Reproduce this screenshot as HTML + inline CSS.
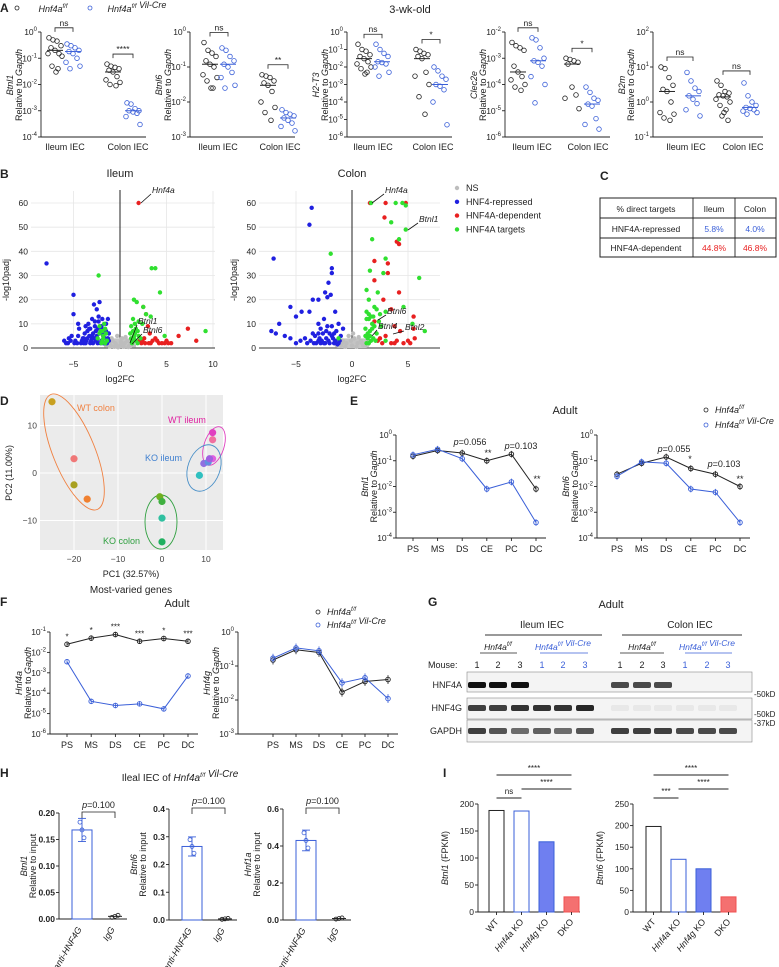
<!DOCTYPE html>
<html><head><meta charset="utf-8">
<style>
html,body{margin:0;padding:0;background:#fff;}
svg{display:block;font-family:"Liberation Sans",Arial,sans-serif;}
</style></head>
<body>
<svg id="fig" width="779" height="967" viewBox="0 0 779 967" xmlns="http://www.w3.org/2000/svg">
<rect width="779" height="967" fill="#fff"/>
</svg>
<script>
// ===== DATA =====
const aBtnl1 = [[0.6,0.5,0.45,0.3,0.25,0.2,0.15,0.15,0.12,0.05,0.04,0.03],[0.35,0.3,0.25,0.2,0.18,0.15,0.1,0.07,0.05,0.04],[0.06,0.05,0.045,0.04,0.035,0.03,0.02,0.015,0.012,0.01,0.009],[0.002,0.0018,0.0012,0.001,0.001,0.0009,0.0008,0.0006,0.0003]];
const aBtnl6 = [[0.5,0.3,0.25,0.2,0.15,0.12,0.1,0.06,0.05,0.04,0.025,0.025],[0.35,0.3,0.2,0.15,0.12,0.1,0.07,0.05,0.03,0.025],[0.06,0.055,0.05,0.04,0.035,0.03,0.02,0.01,0.007,0.005,0.003],[0.006,0.005,0.0045,0.004,0.0035,0.003,0.0025,0.002,0.0015]];
const aH2T3 = [[0.2,0.1,0.08,0.05,0.04,0.03,0.02,0.015,0.01,0.008,0.005,0.004],[0.2,0.1,0.06,0.04,0.02,0.018,0.015,0.01,0.005,0.003],[0.1,0.08,0.06,0.05,0.04,0.03,0.005,0.003,0.001,0.0002,0.00002],[0.01,0.006,0.003,0.002,0.001,0.0008,0.0005,0.0001,0.000005]];
const aClec2e = [[0.004,0.003,0.0025,0.002,0.0005,0.0003,0.0002,0.00015,0.0001,0.00008,0.00006],[0.006,0.005,0.0025,0.001,0.0008,0.0007,0.0005,0.0002,0.0001,0.00002],[0.001,0.0009,0.0008,0.0007,0.0006,0.00008,0.00004,0.00003,0.000012],[0.00008,0.00005,0.00003,0.000025,0.000018,0.000015,0.000005,0.000003,0.000002]];
const aB2m = [[10,9,5,3,2.3,2,1,0.5,0.45,0.35,0.3],[7,4,2.5,2,1.5,1.2,0.9,0.6,0.4],[4,3,2,1.8,1.6,1.5,1.4,1.2,1,0.8,0.6,0.5,0.4,0.3],[3.5,1.5,1,0.8,0.7,0.65,0.6,0.55,0.5,0.45]];
// Panel B volcano [log2FC, -log10padj]
const ilRepX=[-7.9,-5,-5,-4.5,-5.5,-6,-5.8,-4.8,-4,-3.5,-3.2,-3,-2.8,-2.5,-2.2,-2,-2.5,-3,-2,-1.5,-1.3,-1.8,-2.7,-3.8,-4.2,-1.2,-3.4,-2.3,-1.6,-5.2,-2.9,-3.6,-4.4,-3.9,-2.6,-1.9,-1.4,-3.3,-5.6,-5.3,-4.9,-4.6,-4.1,-3.7,-3.1,-2.4,-2.1,-1.7,-1.5,-3.5,-3.0,-2.6,-2.2,-1.8,-1.3,-4.5,-3.9,-3.3,-2.8,-2.4,-2.0,-1.6,-1.2,-3.7,-3.2,-2.7,-2.3,-1.9,-1.5,-4.0,-2.9,-2.5];
const ilRepY=[35,22,14,10,4,3,2,3,4,7,2,12,18,16,19,8,5,4,3,10,12,2,9,6,2,6,10,11,4,5,6,3,8,2,3,6,2,8,2,3,2,2,3,2,3,2,2,2,2,4,5,7,6,5,4,5,4,5,4,8,9,7,3,9,8,11,13,12,7,3,2,3];
const ilTgtX=[-2.3,-2.1,-1.8,-1.6,-1.4,-1.9,-2.4,1.5,1.8,2,2.5,3.4,3.8,4.3,1.4,1.6,2.2,1.3,1.7,2.8,3.3,4.8,9.2,1.9,1.2,2.4,-1.7,-2.2,1.5,1.1,-2.0,-1.8,-1.5,-2.2,-1.9,-1.6,1.3,1.5,1.7,1.9,1.2,1.4,1.6,2.0];
const ilTgtY=[30,7,5,8,3,3,4,20,19,11,17,33,33,23,12,6,4,3,8,14,13,5,7,2,9,10,10,6,4,6,2,4,6,9,7,2,2,5,3,7,4,7,10,5];
const ilDepX=[2,2.5,2.8,3,3.2,3.5,2.6,4,4.5,5,5.5,6.3,7.3,8.2,3.8,2.3,4.8,3.1,2.1,2.7,3.3,4.2,5.2,2.4];
const ilDepY=[60,17,14,9,6,3,4,3,2,3,2,5,8,3,4,2,2,2,3,2,2,2,2,3];
const ilNsX=[-1,-0.5,0,0.5,1,-0.8,0.8,-1.5,1.5,0.2,-0.3,0.4,-0.6,1.2,-1.2,0.6,-0.9,-0.2,0.1,-1.1,0.9,-0.4,0.3,1.3];
const ilNsY=[1,2,1,2,1,3,3,1,1,4,5,0.5,0.5,2,2,4.5,4,0.3,2.5,0.6,0.4,1.2,1.5,3.5];
const coRepX=[-7,-3.6,-3.8,-1.8,-1.8,-2.1,-2.4,-3,-2.2,-1.9,-3.5,-5.5,-4.5,-5,-3.8,-6.5,-7.2,-6.8,-5.5,-4.2,-3,-2.5,-1.5,-1.2,-2,-1.5,-3,-4,-2.5,-1,-0.8,-1.8,-2.8,-3.5,-5,-1.3,-2.3,-3.3,-4.6,-6,-1.6,-2.7,-3.2,-2.9,-2.4,-2.0,-1.6,-1.2,-3.7,-3.0,-2.2,-1.8,-1.4,-2.6,-2.1,-1.7,-1.1,-3.4,-2.8,-2.3];
const coRepY=[37,58,51,33,31,27,23,20,21,22,20,17,15,13,15,10,7,6,4,4,10,12,15,10,6,3,3,2,2,5,8,9,8,6,2,1.5,4,5,3,5,6,3,2,4,2,2,2,2,3,6,9,5,7,6,3,4,3,2,2,7];
const coTgtX=[1.7,3.9,4.5,4.8,3.5,4.8,4.2,1.8,-1.9,3,1.6,2.8,6,1.3,2.3,4.6,1.5,2,3,2.5,1.5,1.8,1.2,2.2,1.4,3,6.5,5.4,1.7,2.6,-1.2,1.3,1.6,2.1,1.3,1.5,1.7,1.9,1.2,1.4,1.6,1.8,2.0,2.4,1.3,1.5,1.9,2.2];
const coTgtY=[60,60,60,59,52,49,45,45,39,37,32,31,29,24,23,17,20,17,15,14,12,10,8,6,4,3,7,10,13,9,4,15,5,3,2,2,3,4,5,6,7,8,9,11,12,14,13,16];
const coDepX=[1.6,3,4.8,2.9,4,4.2,2,3.2,3.2,2,4.2,2.8,3.5,5.5,2,3.8,4.3,5.5,3,4,5,5.6,2.5,3.5,1.5,2.3,2.7,3.8,4.6,5.2];
const coDepY=[60,60,60,54,44,43,36,35,31,28,23,20,16,13,11,9,7,8,5,3,3,4,4,2,5,3,2,2,2,2];
const coNsX=[-1,-0.5,0,0.5,1,-0.8,0.8,-1.2,1.2,0.2,-0.3,0.4,-0.6,0.9,-0.9,0.6,0.1,-0.1];
const coNsY=[1,2,1,2,1,3,3,1,1,4,5,0.5,0.5,2,2,4.5,6,3];
// Panel D PCA
const pcaX=[-25,-20,-20,-17,11.5,11.5,11.5,9.5,10.5,10.8,8.5,-0.5,0,0,0];
const pcaY=[15,3,-2.5,-5.5,8.5,7,3,2,2.3,3,-0.5,-5,-6,-9.5,-14.5];
const pcaCol=['#c8a020','#f07878','#a8a020','#f08030','#e040c0','#f070a0','#e060e0','#9070e0','#6090e0','#a060e0','#30c0c0','#70b020','#40b040','#30c0a0','#20b060'];
// Panel E/F
const segs=['PS','MS','DS','CE','PC','DC'];
const eBtnl1Ff=[0.15,0.25,0.2,0.1,0.18,0.008];
const eBtnl1Cre=[0.17,0.28,0.12,0.008,0.015,0.0004];
const eBtnl6Ff=[0.03,0.08,0.14,0.05,0.03,0.01];
const eBtnl6Cre=[0.025,0.09,0.08,0.008,0.006,0.0004];
const fHnf4aFf=[0.025,0.05,0.075,0.035,0.048,0.035];
const fHnf4aCre=[0.0035,0.00004,0.000025,0.00003,0.000017,0.0007];
const fHnf4gFf=[0.15,0.3,0.25,0.017,0.035,0.04];
const fHnf4gCre=[0.17,0.34,0.28,0.032,0.045,0.011];
const fStars=['*','*','***','***','*','***'];
// Panel H
const hTargets=['Btnl1','Btnl6','Hnf1a'];
const hAnti=[0.168,0.265,0.43];
const hIgG=[0.005,0.004,0.008];
const hMax=[0.2,0.4,0.6];
// Panel I
const iCats=['WT','Hnf4a KO','Hnf4g KO','DKO'];
const iBtnl1=[188,187,130,28];
const iBtnl6=[198,122,100,35];

// ===== HELPERS =====
const NS='http://www.w3.org/2000/svg';
const svg=document.getElementById('fig');
function el(tag,a,nm,parent){
  const e=document.createElementNS(NS,tag);
  for(const k in a) e.setAttribute(k,a[k]);
  
  
  (parent||svg).appendChild(e);
  return e;
}
function T(x,y,s,nm,o){
  o=o||{};
  const e=el('text',{x:x,y:y,'font-size':o.fs||9,'text-anchor':o.a||'middle',fill:o.c||'#222','font-style':o.it?'italic':'normal','font-weight':o.b?'bold':'normal'},nm);
  if(o.rot!==undefined) e.setAttribute('transform','rotate('+o.rot+' '+x+' '+y+')');
  e.innerHTML=s;
  return e;
}
function L(x1,y1,x2,y2,nm,c,w){return el('line',{x1:x1,y1:y1,x2:x2,y2:y2,stroke:c||'#222','stroke-width':w||0.9},nm);}
const sup=s=>'<tspan dy="-4" font-size="6">'+s+'</tspan>';
function pow(e){return '10'+sup(e);}
function logAx(x0,yT,yB,eT,eB,nm){
  const sc=v=>yT+(eT-Math.log10(v))/(eT-eB)*(yB-yT);
  L(x0,yT,x0,yB,nm+'-line');
  for(let e=eT;e>=eB;e--){const y=sc(Math.pow(10,e));L(x0-3,y,x0,y,nm+'-tick');T(x0-4,y+3,pow(e),nm+'-label',{a:'end',fs:8.5});}
  return sc;
}
const ff='Hnf4a'+sup('f/f'), cre='Hnf4a'+sup('f/f')+' Vil-Cre';
const BLUE='#3a5fd8';

// ===== PANEL A =====
T(0,12,'A','panel-a-label',{a:'start',fs:12,b:1});
el('circle',{cx:17,cy:8,r:2,fill:'none',stroke:'#222','stroke-width':0.8},'legend-ff-marker');
T(53,12,ff,'legend-ff',{it:1,fs:9});
el('circle',{cx:90,cy:8,r:2,fill:'none',stroke:BLUE,'stroke-width':0.8},'legend-cre-marker');
T(137,12,cre,'legend-cre',{it:1,fs:9});
T(410,13,'3-wk-old','panel-a-title',{fs:11});
const aPlots=[
 {d:aBtnl1,g:'Btnl1',x0:41,eT:0,eB:-4,gx:[55,73,113,133],lx:[65,128],sig:['ns','****']},
 {d:aBtnl6,g:'Btnl6',x0:190,eT:0,eB:-3,gx:[210,228,268,288],lx:[218,280],sig:['ns','**']},
 {d:aH2T3,g:'H2-T3',x0:347,eT:0,eB:-6,gx:[364,382,422,440],lx:[373,433],sig:['ns','*']},
 {d:aClec2e,g:'Clec2e',x0:505,eT:-2,eB:-6,gx:[518,538,572,592],lx:[532,588],sig:['ns','*']},
 {d:aB2m,g:'B2m',x0:653,eT:2,eB:-1,gx:[667,693,723,750],lx:[686,743],sig:['ns','ns']}
];
const jit=[-6,-2,2,6,-4,0,4,-7,7,-3,3,1,-1,5];
aPlots.forEach((p,pi)=>{
  const sc=logAx(p.x0,32,137,p.eT,p.eB,'a-yaxis-'+p.g);
  L(p.x0,137,p.x0+(pi==4?110:105),137,'a-xaxis-'+p.g);
  T(p.x0-28,85,p.g,'a-ytitle-gene-'+p.g,{it:1,rot:-90,fs:9});
  T(p.x0-19,85,'Relative to <tspan font-style="italic">Gapdh</tspan>','a-ytitle-'+p.g,{rot:-90,fs:9});
  T(p.lx[0],150,'Ileum IEC','a-xlabel-ileum',{fs:9});
  T(p.lx[1],150,'Colon IEC','a-xlabel-colon',{fs:9});
  p.d.forEach((grp,gi)=>{
    const c=gi%2?BLUE:'#222';
    grp.forEach((v,i)=>el('circle',{cx:p.gx[gi]+jit[i%jit.length],cy:sc(v),r:2.3,fill:'none',stroke:c,'stroke-width':0.8},'a-dot-'+p.g));
    const s=[...grp].sort((a,b)=>a-b), m=s[Math.floor(s.length/2)];
    L(p.gx[gi]-8,sc(m),p.gx[gi]+8,sc(m),'a-median-'+p.g,c,1);
  });
  [[0,1],[2,3]].forEach((pr,k)=>{
    const allMax=Math.max(...p.d[pr[0]],...p.d[pr[1]]);
    const y=Math.max(26,sc(allMax)-10);
    const x1=p.gx[pr[0]],x2=p.gx[pr[1]];
    el('path',{d:`M${x1},${y+4}V${y}H${x2}V${y+4}`,fill:'none',stroke:'#222','stroke-width':0.8},'a-sig-bracket');
    T((x1+x2)/2,y-2,p.sig[k],'a-sig-label',{fs:8.5});
  });
});

// ===== PANEL B =====
T(0,178,'B','panel-b-label',{a:'start',fs:12,b:1});
function volcano(x0p,x1p,zx,ux,xt,nm,title,rX,rY,tX,tY,dX,dY,nX,nY){
  const y0=348, yu=145/60;
  const sx=v=>zx+v*ux, sy=v=>y0-v*yu;
  T(zx,177,title,nm+'-title',{fs:11});
  [0,10,20,30,40,50,60].forEach(t=>{L(x0p,sy(t),x1p,sy(t),nm+'-grid-h','#e6e6e6',0.8);T(x0p-3,sy(t)+3,t,nm+'-ytick-label',{a:'end',fs:8.5});});
  xt.forEach(t=>{L(sx(t),191,sx(t),y0,nm+'-grid-v','#e6e6e6',0.8);T(sx(t),367,t==0?'0':(t<0?'\u2212'+(-t):t),nm+'-xtick-label',{fs:8.5});});
  L(x0p,y0,x1p,y0,nm+'-xaxis','#333',1);
  L(zx,190,zx,y0,nm+'-zero-line','#222',1);
  T(zx,382,'log2FC',nm+'-xtitle',{fs:9});
  T(x0p-22,280,'-log10padj',nm+'-ytitle',{rot:-90,fs:9});
  el('rect',{x:sx(-1.6),y:sy(4),width:sx(1.6)-sx(-1.6),height:sy(0)-sy(4),rx:4,fill:'#c4c4c4'},nm+'-ns-cluster');
  nX.forEach((v,i)=>el('circle',{cx:sx(v),cy:sy(nY[i]),r:2.2,fill:'#bdbdbd'},nm+'-ns-point'));
  rX.forEach((v,i)=>el('circle',{cx:sx(v),cy:sy(rY[i]),r:2.2,fill:'#2020e0'},nm+'-repressed-point'));
  dX.forEach((v,i)=>el('circle',{cx:sx(v),cy:sy(dY[i]),r:2.2,fill:'#e82020'},nm+'-dependent-point'));
  tX.forEach((v,i)=>el('circle',{cx:sx(v),cy:sy(tY[i]),r:2.2,fill:'#30e030'},nm+'-target-point'));
  return {sx,sy};
}
volcano(31,215,120,9.3,[-5,0,5,10],'volcano-ileum','Ileum',ilRepX,ilRepY,ilTgtX,ilTgtY,ilDepX,ilDepY,ilNsX,ilNsY);
volcano(259,440,352,11.2,[-5,0,5],'volcano-colon','Colon',coRepX,coRepY,coTgtX,coTgtY,coDepX,coDepY,coNsX,coNsY);
function ann(x1,y1,x2,y2,s,nm){L(x1,y1,x2,y2,nm+'-arrow','#111',0.8);T(x1+1,y1-1,s,nm,{a:'start',it:1,fs:8.5});}
ann(151,194,141,203,'Hnf4a','ileum-hnf4a-annotation');
ann(137,325,130,343,'Btnl1','ileum-btnl1-annotation');
ann(142,334,132,344,'Btnl6','ileum-btnl6-annotation');
ann(384,194,372,203,'Hnf4a','colon-hnf4a-annotation');
ann(418,223,408,230,'Btnl1','colon-btnl1-annotation');
ann(386,315,378,320,'Btnl6','colon-btnl6-annotation');
ann(377,330,372,336,'Btnl4','colon-btnl4-annotation');
ann(404,331,393,334,'Btnl2','colon-btnl2-annotation');
[['NS','#bdbdbd'],['HNF4-repressed','#2020e0'],['HNF4A-dependent','#e82020'],['HNF4A targets','#30e030']].forEach((d,i)=>{
  el('circle',{cx:457,cy:188+i*13.8,r:2.2,fill:d[1]},'volcano-legend-marker');
  T(466,191+i*13.8,d[0],'volcano-legend-label',{a:'start',fs:9});
});

// ===== PANEL C =====
T(600,180,'C','panel-c-label',{a:'start',fs:12,b:1});
el('rect',{x:600,y:198,width:176,height:59,fill:'none',stroke:'#222','stroke-width':1},'target-table');
L(600,218,776,218,'table-row-line');L(600,238,776,238,'table-row-line');
L(693,198,693,257,'table-col-line');L(735,198,735,257,'table-col-line');
T(646,212,'% direct targets','table-header',{fs:8.5});T(714,212,'Ileum','table-header',{fs:8.5});T(755,212,'Colon','table-header',{fs:8.5});
T(646,232,'HNF4A-repressed','table-row-label',{fs:8.5});T(714,232,'5.8%','table-cell',{fs:8.5,c:BLUE});T(755,232,'4.0%','table-cell',{fs:8.5,c:BLUE});
T(646,251,'HNF4A-dependent','table-row-label',{fs:8.5});T(714,251,'44.8%','table-cell',{fs:8.5,c:'#e82020'});T(755,251,'46.8%','table-cell',{fs:8.5,c:'#e82020'});

// ===== PANEL D =====
T(0,405,'D','panel-d-label',{a:'start',fs:12,b:1});
const px=v=>162+v*4.4, py=v=>473-v*4.75;
el('rect',{x:40,y:395,width:183,height:155,fill:'#ebebeb'},'pca-background');
[-20,-10,0,10].forEach(t=>{L(px(t),395,px(t),550,'pca-grid-v','#fff',1);T(px(t),562,t<0?'\u2212'+(-t):t,'pca-xtick-label',{fs:8.5,c:'#444'});});
[10,0,-10].forEach(t=>{L(40,py(t),223,py(t),'pca-grid-h','#fff',1);T(37,py(t)+3,t<0?'\u2212'+(-t):t,'pca-ytick-label',{a:'end',fs:8.5,c:'#444'});});
T(131,577,'PC1 (32.57%)','pca-xtitle',{fs:9});
T(12,473,'PC2 (11.00%)','pca-ytitle',{rot:-90,fs:9});
T(131,593,'Most-varied genes','pca-subtitle',{fs:10});
[[74,452,21,62,-22,'#f08040'],[214,446,10,20,18,'#e040c0'],[204,468,16,24,20,'#4a90c8'],[161,522,16,27,0,'#30a040']].forEach(e=>{
  el('ellipse',{cx:e[0],cy:e[1],rx:e[2],ry:e[3],transform:`rotate(${e[4]} ${e[0]} ${e[1]})`,fill:'none',stroke:e[5],'stroke-width':0.9},'pca-ellipse');
});
pcaX.forEach((v,i)=>el('circle',{cx:px(v),cy:py(pcaY[i]),r:3.6,fill:pcaCol[i]},'pca-point'));
T(77,411,'WT colon','pca-label-wt-colon',{a:'start',fs:9,c:'#f08040'});
T(168,423,'WT ileum','pca-label-wt-ileum',{a:'start',fs:9,c:'#e020a0'});
T(145,461,'KO ileum','pca-label-ko-ileum',{a:'start',fs:9,c:'#4080d0'});
T(103,544,'KO colon','pca-label-ko-colon',{a:'start',fs:9,c:'#30a040'});

// ===== PANEL E & F line charts =====
function linePlot(x0,yT,yB,eT,eB,cx0,step,dFf,dCre,gene,nm){
  const sc=logAx(x0,yT,yB,eT,eB,nm+'-yaxis');
  L(x0,yB,cx0+step*5+10,yB,nm+'-xaxis');
  const cx=i=>cx0+i*step;
  segs.forEach((s,i)=>{L(cx(i),yB,cx(i),yB+3,nm+'-xtick');T(cx(i),yB+14,s,nm+'-xtick-label',{fs:9});});
  T(x0-28,(yT+yB)/2,gene,nm+'-ytitle-gene',{it:1,rot:-90,fs:9});
  T(x0-19,(yT+yB)/2,'Relative to <tspan font-style="italic">Gapdh</tspan>',nm+'-ytitle',{rot:-90,fs:9});
  [[dFf,'#222'],[dCre,BLUE]].forEach(([d,c])=>{
    el('polyline',{points:d.map((v,i)=>cx(i)+','+sc(v)).join(' '),fill:'none',stroke:c,'stroke-width':1},nm+'-line');
    d.forEach((v,i)=>{
      L(cx(i),sc(v*1.35),cx(i),sc(v/1.35),nm+'-errorbar',c,0.8);
      el('circle',{cx:cx(i),cy:sc(v),r:2.3,fill:'none',stroke:c,'stroke-width':0.9},nm+'-point');
    });
  });
  return {sc,cx};
}
T(350,405,'E','panel-e-label',{a:'start',fs:12,b:1});
T(565,414,'Adult','panel-e-title',{fs:11});
el('circle',{cx:706,cy:410,r:2,fill:'none',stroke:'#222','stroke-width':0.8},'e-legend-ff-marker');
T(715,413,ff,'e-legend-ff',{a:'start',it:1,fs:9});
el('circle',{cx:706,cy:425,r:2,fill:'none',stroke:BLUE,'stroke-width':0.8},'e-legend-cre-marker');
T(715,428,cre,'e-legend-cre',{a:'start',it:1,fs:9});
linePlot(396,435,538,0,-4,413,24.6,eBtnl1Ff,eBtnl1Cre,'Btnl1','e-btnl1');
linePlot(597,435,538,0,-4,617,24.6,eBtnl6Ff,eBtnl6Cre,'Btnl6','e-btnl6');
T(470,445,'<tspan font-style="italic">p</tspan>=0.056','e-pvalue',{fs:9});
T(521,449,'<tspan font-style="italic">p</tspan>=0.103','e-pvalue',{fs:9});
T(488,456,'**','e-sig',{fs:9});T(537,482,'**','e-sig',{fs:9});
T(674,452,'<tspan font-style="italic">p</tspan>=0.055','e-pvalue',{fs:9});
T(724,467,'<tspan font-style="italic">p</tspan>=0.103','e-pvalue',{fs:9});
T(690,462,'*','e-sig',{fs:9});T(740,482,'**','e-sig',{fs:9});

T(0,606,'F','panel-f-label',{a:'start',fs:12,b:1});
T(177,607,'Adult','panel-f-title',{fs:11});
const f1=linePlot(50,632,734,-1,-6,67,24.2,fHnf4aFf,fHnf4aCre,'Hnf4a','f-hnf4a');
fStars.forEach((s,i)=>T(f1.cx(i),f1.sc(fHnf4aFf[i])-5,s,'f-sig',{fs:8}));
linePlot(238,632,734,0,-3,273,23,fHnf4gFf,fHnf4gCre,'Hnf4g','f-hnf4g');
el('circle',{cx:318,cy:612,r:2,fill:'none',stroke:'#222','stroke-width':0.8},'f-legend-ff-marker');
T(327,615,ff,'f-legend-ff',{a:'start',it:1,fs:9});
el('circle',{cx:318,cy:625,r:2,fill:'none',stroke:BLUE,'stroke-width':0.8},'f-legend-cre-marker');
T(327,628,cre,'f-legend-cre',{a:'start',it:1,fs:9});

// ===== PANEL G western =====
T(428,606,'G','panel-g-label',{a:'start',fs:12,b:1});
T(611,608,'Adult','panel-g-title',{fs:11});
T(542,628,'Ileum IEC','g-ileum-header',{fs:10});T(690,628,'Colon IEC','g-colon-header',{fs:10});
L(485,635,602,635,'g-ileum-bar','#999',2);L(622,635,742,635,'g-colon-bar','#999',2);
[[498,ff,'#222',480,517],[563,cre,BLUE,540,588],[642,ff,'#222',620,664],[707,cre,BLUE,685,732]].forEach(g=>{
  T(g[0],650,g[1],'g-genotype-label',{it:1,fs:8.5,c:g[2]});L(g[3],653,g[4],653,'g-genotype-underline',g[2],0.7);
});
T(428,668,'Mouse:','g-mouse-label',{a:'start',fs:9});
const lanes=[477,498,520,542,563,585,620,642,663,685,707,728];
lanes.forEach((x,i)=>T(x,668,(i%3)+1,'g-lane-number',{fs:9,c:(Math.floor(i/3)%2)?BLUE:'#222'}));
[['HNF4A',672,692,[1,1,1,0,0,0,0.75,0.75,0.75,0,0,0],685],['HNF4G',698,719,[0.8,0.8,0.85,0.85,0.85,0.9,0.05,0.05,0.05,0.05,0.05,0.05],708],['GAPDH',720,742,[0.8,0.7,0.6,0.65,0.6,0.7,0.8,0.8,0.8,0.75,0.75,0.75],731]].forEach(r=>{
  el('rect',{x:467,y:r[1],width:285,height:r[2]-r[1],fill:'#f4f4f4',stroke:'#888','stroke-width':0.6},'blot-'+r[0]);
  T(462,r[4]+3,r[0],'blot-label',{a:'end',fs:9});
  lanes.forEach((x,i)=>el('rect',{x:x-9,y:r[4]-3,width:18,height:6,rx:2,fill:'#111','fill-opacity':r[3][i]},'blot-band'));
});
T(754,697,'-50kD','blot-marker-50-hnf4a',{a:'start',fs:8});
T(754,717,'-50kD','blot-marker-50-hnf4g',{a:'start',fs:8});
T(754,726,'-37kD','blot-marker-37',{a:'start',fs:8});

// ===== PANEL H =====
T(0,777,'H','panel-h-label',{a:'start',fs:12,b:1});
T(180,781,'Ileal IEC of '+'<tspan font-style="italic">Hnf4a'+sup('f/f')+' Vil-Cre</tspan>','panel-h-title',{fs:10});
const hAx=[59,169,283];
hTargets.forEach((g,k)=>{
  const x0=hAx[k], yT=k?809:813, yB=k?920:919, sc=v=>yB-v/hMax[k]*(yB-yT);
  L(x0,yT,x0,yB,'h-yaxis');L(x0,yB,x0+68,yB,'h-xaxis');
  const nt=k==2?4:5, st=hMax[k]/(nt-1);
  for(let i=0;i<nt;i++){const v=i*st;L(x0-3,sc(v),x0,sc(v),'h-ytick');T(x0-4,sc(v)+3,v.toFixed(k==0?2:1),'h-ytick-label',{a:'end',fs:8.5,b:1});}
  T(x0-32,(yT+yB)/2,g,'h-ytitle-gene',{it:1,rot:-90,fs:9});
  T(x0-23,(yT+yB)/2,'Relative to input','h-ytitle',{rot:-90,fs:9});
  const bx=x0+13, ix=x0+56;
  el('rect',{x:bx,y:sc(hAnti[k]),width:20,height:yB-sc(hAnti[k]),fill:'none',stroke:BLUE,'stroke-width':1},'h-bar-anti-hnf4g');
  const e=hAnti[k]*0.13;
  L(bx+10,sc(hAnti[k]+e),bx+10,sc(hAnti[k]-e),'h-errorbar',BLUE);L(bx+6,sc(hAnti[k]+e),bx+14,sc(hAnti[k]+e),'h-errorcap',BLUE);L(bx+6,sc(hAnti[k]-e),bx+14,sc(hAnti[k]-e),'h-errorcap',BLUE);
  [1.1,1,0.9].forEach((f,j)=>el('circle',{cx:bx+10+(j-1)*2,cy:sc(hAnti[k]*f+(j-1)*0.002),r:2,fill:'none',stroke:BLUE,'stroke-width':0.8},'h-point'));
  L(ix-7,sc(hIgG[k]),ix+7,sc(hIgG[k]),'h-bar-igg','#222',1);
  [0,1,2].forEach(j=>el('circle',{cx:ix-3+j*3,cy:sc(hIgG[k]*(0.6+j*0.4)),r:2,fill:'none',stroke:'#222','stroke-width':0.8},'h-igg-point'));
  el('path',{d:`M${bx+10},${yT+5}V${yT-1}H${ix}V${yT+5}`,fill:'none',stroke:'#222','stroke-width':0.8},'h-sig-bracket');
  T((bx+10+ix)/2,yT-5,'<tspan font-style="italic">p</tspan>=0.100','h-pvalue',{fs:9});
  T(bx+10,yB+10,'anti-HNF4G','h-xlabel',{a:'end',it:1,fs:9,rot:-60});
  T(ix,yB+10,'IgG','h-xlabel',{a:'end',it:1,fs:9,rot:-60});
});

// ===== PANEL I =====
T(443,777,'I','panel-i-label',{a:'start',fs:12,b:1});
const iFill=['none','none','#6f7ff0','#f47070'], iStroke=['#222',BLUE,BLUE,'#f05050'];
[[iBtnl1,478,200,'Btnl1',[489,514,539,564]],[iBtnl6,633,250,'Btnl6',[646,671,696,721]]].forEach(([d,x0,mx,g,bx],k)=>{
  const yT=804,yB=912,sc=v=>yB-v/mx*(yB-yT);
  L(x0,yT,x0,yB,'i-yaxis');L(x0,yB,x0+102,yB,'i-xaxis');
  for(let v=0;v<=mx;v+=50){L(x0-3,sc(v),x0,sc(v),'i-ytick');T(x0-4,sc(v)+3,v,'i-ytick-label',{a:'end',fs:8.5});}
  T(x0-30,858,'<tspan font-style="italic">'+g+'</tspan>  (FPKM)','i-ytitle',{rot:-90,fs:9});
  d.forEach((v,i)=>{
    el('rect',{x:bx[i],y:sc(v),width:15,height:yB-sc(v),fill:iFill[i],stroke:iStroke[i],'stroke-width':1},'i-bar-'+g);
    L(bx[i]+7.5,yB,bx[i]+7.5,yB+3,'i-xtick');
    T(bx[i]+10,yB+10,i==0?'WT':(i==3?'DKO':'<tspan font-style="italic">'+iCats[i].split(' ')[0]+'</tspan> KO'),'i-xlabel',{a:'end',fs:9,rot:-50});
  });
  const c=i=>bx[i]+7.5;
  L(c(0),775,c(3),775,'i-sig-line');T((c(0)+c(3))/2,771,'****','i-sig',{fs:8});
  L(c(1),789,c(3),789,'i-sig-line');T((c(1)+c(3))/2,785,'****','i-sig',{fs:8});
  L(c(0),798,c(1),798,'i-sig-line');T((c(0)+c(1))/2,794,k?'***':'ns','i-sig',{fs:8});
});
</script>
</body></html>
